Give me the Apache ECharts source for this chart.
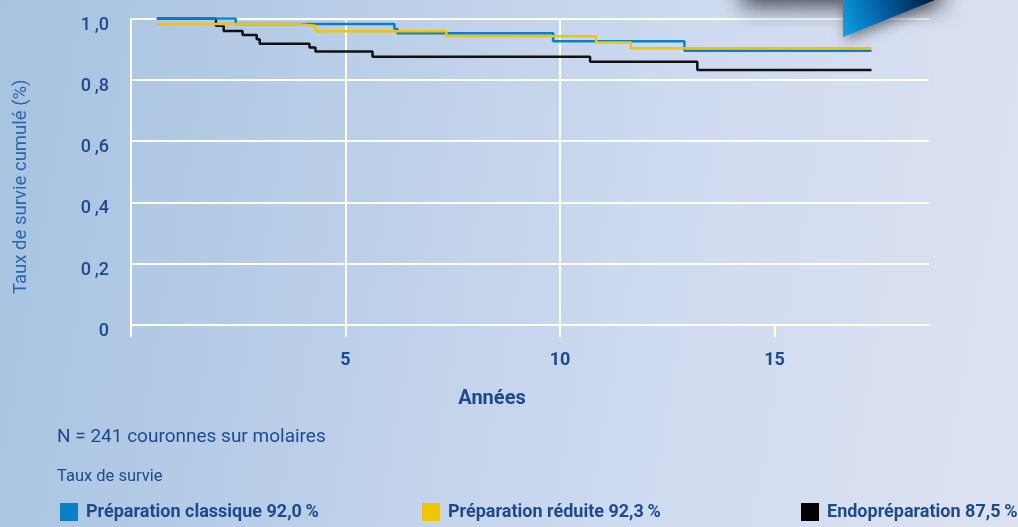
<!DOCTYPE html>
<html>
<head>
<meta charset="utf-8">
<script src="https://cdn.jsdelivr.net/npm/echarts@6/dist/echarts.min.js"></script>
<style>
  html, body { margin: 0; padding: 0; }
  #chart {
    width: 1018px; height: 527px;
    background: linear-gradient(100deg, #a6c3e0 0%, #bccfe8 35%, #cfdbf0 65%, #dde2f0 100%);
  }
</style>
</head>
<body>
<div id="chart"></div>
<script>
// Survival curves (Kaplan-Meier, step data): value holds from time[i] until time[i+1]
const classiqueTimes = [0.6, 2.44, 6.14, 6.21, 9.84, 12.9, 17.26];
const classiqueValues = [1.0, 0.982, 0.966, 0.952, 0.926, 0.895, 0.895];

const reduiteTimes = [0.6, 3.86, 4.3, 7.35, 10.84, 11.65, 17.26];
const reduiteValues = [0.982, 0.976, 0.958, 0.942, 0.922, 0.903, 0.903];

const endoTimes = [0.6, 1.98, 2.16, 2.6, 2.93, 3.0, 4.16, 4.3, 5.63, 10.7, 13.2, 17.26];
const endoValues = [1.0, 0.976, 0.959, 0.946, 0.932, 0.918, 0.905, 0.892, 0.875, 0.859, 0.832, 0.832];

const seriesNames = [
  "Préparation classique 92,0\u2009%",
  "Préparation réduite 92,3\u2009%",
  "Endopréparation 87,5\u2009%"
];
const yTickLabels = { 0: "0", 0.2: "0\u2009,2", 0.4: "0\u2009,4", 0.6: "0\u2009,6", 0.8: "0\u2009,8", 1: "1\u2009,0" };
const xTickValues = [0, 5, 10, 15];
const xLabelValues = [5, 10, 15];

const textBlue = "#1d4a8f";
const zip = (xs, ys) => xs.map((x, i) => [x, ys[i]]);

const chart = echarts.init(document.getElementById("chart"));

const legendBase = {
  icon: "rect",
  itemWidth: 18,
  itemHeight: 18,
  top: 503,
  padding: 0,
  selectedMode: false,
  textStyle: { color: textBlue, fontSize: 18, fontWeight: "bold", fontFamily: "Roboto", padding: [0, 0, 0, 3] }
};

const option = {
  backgroundColor: "transparent",
  animation: false,
  grid: { left: 131, right: 89, top: 18.5, bottom: 202 },
  legend: [
    Object.assign({}, legendBase, { left: 60, data: [seriesNames[0]] }),
    Object.assign({}, legendBase, { left: 422, data: [seriesNames[1]] }),
    Object.assign({}, legendBase, { left: 801, data: [seriesNames[2]] })
  ],
  xAxis: {
    type: "value",
    min: 0,
    max: 18.6,
    interval: 5,
    name: "Années",
    nameLocation: "middle",
    nameGap: 64,
    nameTextStyle: { color: textBlue, fontSize: 20, fontWeight: "bold", fontFamily: "Roboto", padding: [0, 76, 0, 0] },
    axisLine: { show: true, lineStyle: { color: "#ffffff", width: 2 } },
    axisTick: { show: true, length: 12, customValues: xTickValues, lineStyle: { color: "#ffffff", width: 2 } },
    axisLabel: {
      customValues: xLabelValues,
      margin: 26,
      color: textBlue,
      fontSize: 18,
      fontWeight: "bold",
      fontFamily: "Roboto"
    },
    splitLine: { show: true, showMaxLine: false, lineStyle: { color: "#ffffff", width: 2 } }
  },
  yAxis: {
    type: "value",
    min: 0,
    max: 1,
    interval: 0.2,
    name: "Taux de survie cumulé (%)",
    nameLocation: "middle",
    nameRotate: 90,
    nameGap: 100,
    nameTextStyle: { color: "#2b66ad", fontSize: 18.5, fontFamily: "Roboto", padding: [0, 30, 0, 0] },
    axisLine: { show: false },
    axisTick: { show: false },
    axisLabel: {
      margin: 22,
      color: textBlue,
      fontSize: 18,
      fontWeight: 500,
      fontFamily: "Roboto",
      verticalAlign: "top",
      lineHeight: 13,
      formatter: v => yTickLabels[Math.round(v * 10) / 10]
    },
    splitLine: { show: true, lineStyle: { color: "#ffffff", width: 2 } }
  },
  series: [
    {
      name: seriesNames[2],
      type: "line",
      step: "end",
      showSymbol: false,
      data: zip(endoTimes, endoValues),
      itemStyle: { color: "#000000" },
      lineStyle: { color: "#111111", width: 2.5 },
      z: 2
    },
    {
      name: seriesNames[0],
      type: "line",
      step: "end",
      showSymbol: false,
      data: zip(classiqueTimes, classiqueValues),
      itemStyle: { color: "#0a80c8" },
      lineStyle: { color: "#0a80c8", width: 2.5 },
      z: 3
    },
    {
      name: seriesNames[1],
      type: "line",
      step: "end",
      showSymbol: false,
      data: zip(reduiteTimes, reduiteValues),
      itemStyle: { color: "#f5c400" },
      lineStyle: { color: "#f5c400", width: 2.5 },
      z: 4
    }
  ],
  graphic: [
    {
      type: "text",
      left: 57,
      top: 428,
      style: { text: "N = 241 couronnes sur molaires", fill: textBlue, fontSize: 19, fontFamily: "Roboto" }
    },
    {
      type: "text",
      left: 57,
      top: 468,
      style: { text: "Taux de survie", fill: textBlue, fontSize: 16.5, fontFamily: "Roboto" }
    },
    {
      type: "rect",
      z: 100,
      shape: { x: 742, y: -40, width: 200, height: 40 },
      style: { fill: "#4a4f5a", shadowBlur: 22, shadowColor: "rgba(0,0,0,0.7)", shadowOffsetY: 6 }
    },
    {
      type: "polygon",
      z: 101,
      shape: { points: [[843, 0], [843, 37], [935, 0]] },
      style: {
        fill: new echarts.graphic.LinearGradient(0, 1, 1, 0, [
          { offset: 0, color: "#0aa3e8" },
          { offset: 0.5, color: "#035a9e" },
          { offset: 1, color: "#001a40" }
        ]),
        shadowBlur: 14,
        shadowColor: "rgba(0,0,0,0.5)",
        shadowOffsetX: 3,
        shadowOffsetY: 3
      }
    }
  ]
};

chart.setOption(option);
</script>
</body>
</html>
